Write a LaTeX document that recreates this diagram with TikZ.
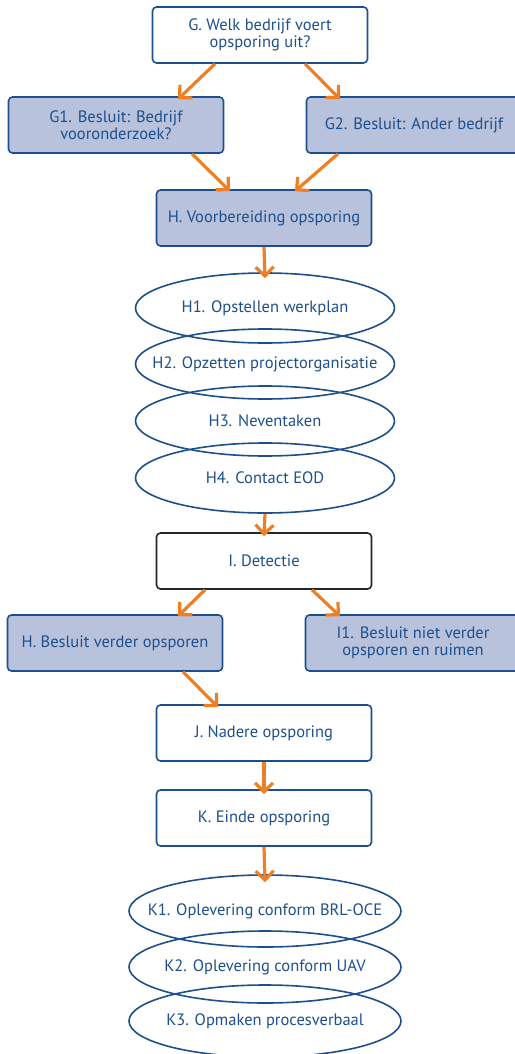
\documentclass[tikz,border=0pt]{standalone}
\usepackage{fontspec}
\setmainfont{PT Sans}
\usetikzlibrary{shapes.geometric,arrows.meta}
\definecolor{rijksblauw}{HTML}{1D4F8C}
\definecolor{vulblauw}{HTML}{B9C2DC}
\definecolor{pijloranje}{HTML}{F07F24}

\begin{document}
\begin{tikzpicture}[x=1pt,y=-1pt,font=\fontsize{16.5}{17}\selectfont]
    \tikzstyle{stap}=[rectangle,rounded corners=4pt,draw=rijksblauw,line width=1.6pt,text=rijksblauw,minimum width=215pt,minimum height=56pt,align=center,inner sep=2pt]
    \tikzstyle{besluit}=[stap,fill=vulblauw]
    \tikzstyle{deel}=[ellipse,draw=rijksblauw,line width=1.6pt,text=rijksblauw,minimum width=259pt,minimum height=70pt,inner sep=0pt]
    \tikzstyle{pijl}=[draw=pijloranje,line width=3.2pt,-{Straight Barb[length=9pt,width=18pt]}]
    \useasboundingbox (0,0) rectangle (514,1054);

    \node[stap] (g) at (260,35) {G. Welk bedrijf voert\\opsporing uit?};
    \node[besluit] (g1) at (116,125) {G1. Besluit: Bedrijf\\vooronderzoek?};
    \node[besluit] (g2) at (414,125) {G2. Besluit: Ander bedrijf};
    \node[besluit] (h) at (264,218) {H. Voorbereiding opsporing};

    \foreach \naam/\y/\tekst in {h1/308/H1. Opstellen werkplan, h2/364/H2. Opzetten projectorganisatie, h3/421/H3. Neventaken, h4/478/H4. Contact EOD}
        \node[deel] (\naam) at (265,\y) {\makebox[0pt]{\tekst}};

    \node[stap,draw=black!85] (i) at (264,561) {I. Detectie};
    \node[besluit] (hv) at (115,643) {H. Besluit verder opsporen};
    \node[besluit] (i1) at (413,643) {I1. Besluit niet verder\\opsporen en ruimen};
    \node[stap] (j) at (264,733) {J. Nadere opsporing};
    \node[stap] (k) at (264,818) {K. Einde opsporing};

    \foreach \naam/\y/\tekst in {k1/911/K1. Oplevering conform BRL-OCE, k2/967/K2. Oplevering conform UAV, k3/1021/K3. Opmaken procesverbaal}
        \node[deel,minimum width=272pt,minimum height=72pt] (\naam) at (265,\y) {\makebox[0pt]{\tekst}};

    % pijlen
    \draw[pijl] ([xshift=-45pt]g.south) -- ([xshift=62pt,yshift=-3pt]g1.north);
    \draw[pijl] ([xshift=45pt]g.south) -- ([xshift=-74pt,yshift=-3pt]g2.north);
    \draw[pijl] ([xshift=76pt]g1.south) -- ([xshift=-34pt,yshift=-2pt]h.north);
    \draw[pijl] ([xshift=-76pt]g2.south) -- ([xshift=31pt,yshift=-2pt]h.north);
    \draw[pijl] (h.south) -- ([yshift=-6pt]h1.north);
    \draw[pijl] (h4.south) -- ([yshift=-4pt]i.north);
    \draw[pijl] ([xshift=-59pt]i.south) -- ([xshift=63pt,yshift=-2pt]hv.north);
    \draw[pijl] ([xshift=48pt]i.south) -- ([xshift=-73pt,yshift=-2pt]i1.north);
    \draw[pijl] ([xshift=68pt]hv.south) -- ([xshift=-46pt,yshift=-3pt]j.north);
    \draw[pijl] (j.south) -- ([yshift=-5pt]k.north);
    \draw[pijl] (k.south) -- ([yshift=-8pt]k1.north);
\end{tikzpicture}
\end{document}
